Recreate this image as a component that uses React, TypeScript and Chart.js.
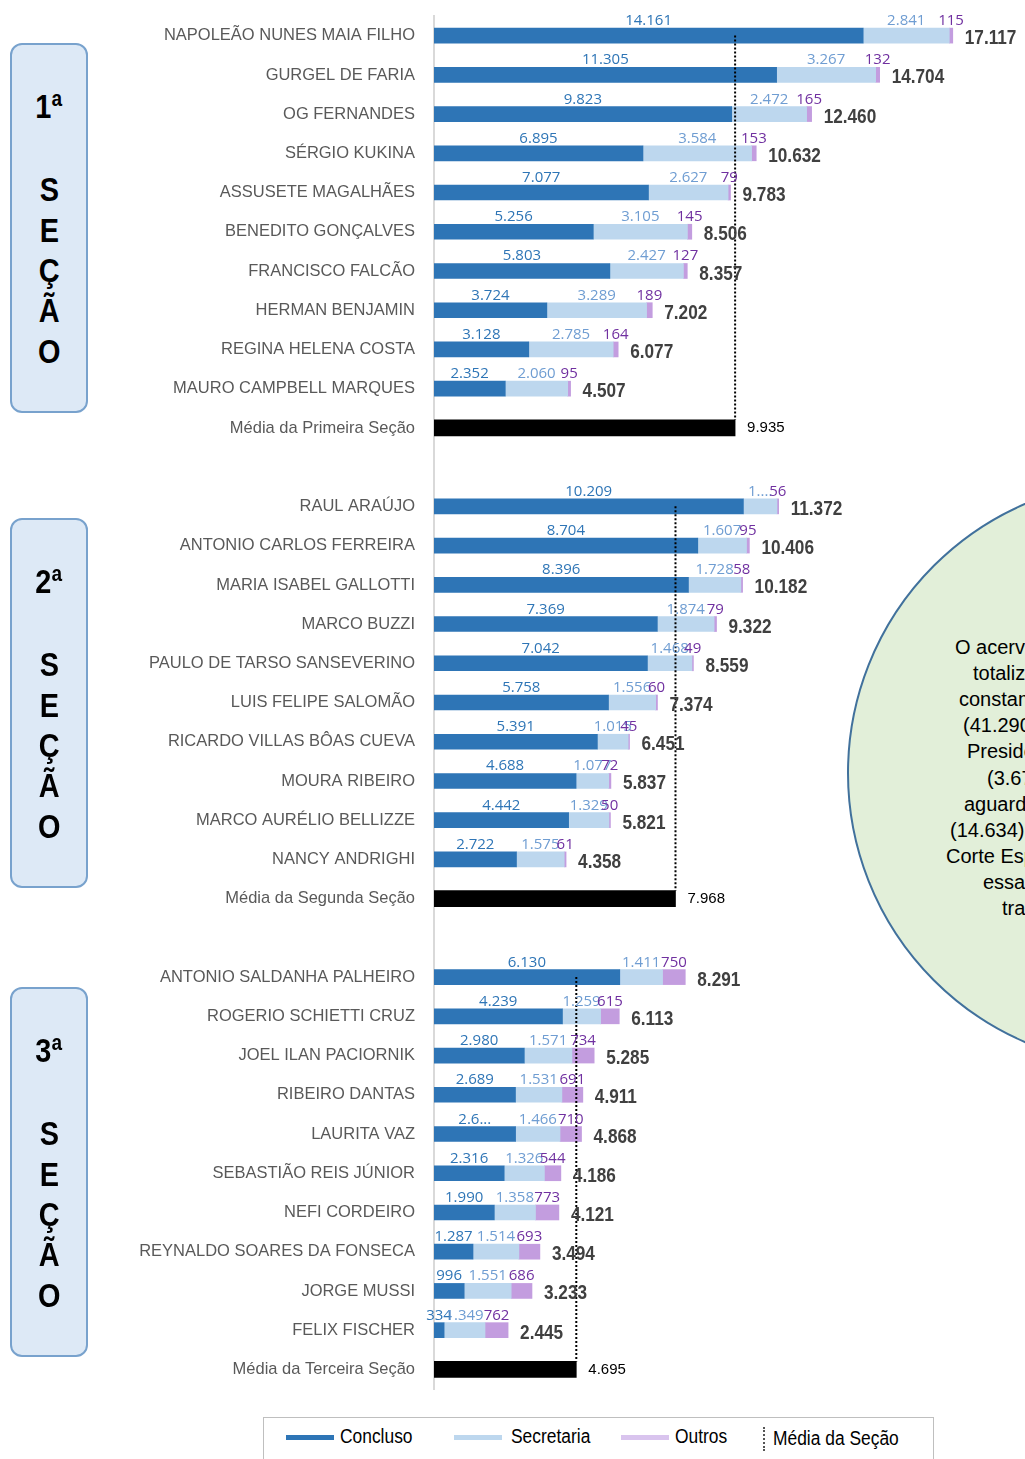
import React, { useEffect, useRef } from "react";
import { Chart, registerables } from "chart.js";

Chart.register(...registerables);

// ---------- DATA ----------
const section1Names = [
  "NAPOLEÃO NUNES MAIA FILHO",
  "GURGEL DE FARIA",
  "OG FERNANDES",
  "SÉRGIO KUKINA",
  "ASSUSETE MAGALHÃES",
  "BENEDITO GONÇALVES",
  "FRANCISCO FALCÃO",
  "HERMAN BENJAMIN",
  "REGINA HELENA COSTA",
  "MAURO CAMPBELL MARQUES",
];
const section1Concluso = [14161, 11305, 9823, 6895, 7077, 5256, 5803, 3724, 3128, 2352];
const section1Secretaria = [2841, 3267, 2472, 3584, 2627, 3105, 2427, 3289, 2785, 2060];
const section1Outros = [115, 132, 165, 153, 79, 145, 127, 189, 164, 95];

const section2Names = [
  "RAUL ARAÚJO",
  "ANTONIO CARLOS FERREIRA",
  "MARIA ISABEL GALLOTTI",
  "MARCO BUZZI",
  "PAULO DE TARSO SANSEVERINO",
  "LUIS FELIPE SALOMÃO",
  "RICARDO VILLAS BÔAS CUEVA",
  "MOURA RIBEIRO",
  "MARCO AURÉLIO BELLIZZE",
  "NANCY ANDRIGHI",
];
const section2Concluso = [10209, 8704, 8396, 7369, 7042, 5758, 5391, 4688, 4442, 2722];
const section2Secretaria = [1107, 1607, 1728, 1874, 1468, 1556, 1015, 1077, 1329, 1575];
const section2Outros = [56, 95, 58, 79, 49, 60, 45, 72, 50, 61];

const section3Names = [
  "ANTONIO SALDANHA PALHEIRO",
  "ROGERIO SCHIETTI CRUZ",
  "JOEL ILAN PACIORNIK",
  "RIBEIRO DANTAS",
  "LAURITA VAZ",
  "SEBASTIÃO REIS JÚNIOR",
  "NEFI CORDEIRO",
  "REYNALDO SOARES DA FONSECA",
  "JORGE MUSSI",
  "FELIX FISCHER",
];
const section3Concluso = [6130, 4239, 2980, 2689, 2692, 2316, 1990, 1287, 996, 334];
const section3Secretaria = [1411, 1259, 1571, 1531, 1466, 1326, 1358, 1514, 1551, 1349];
const section3Outros = [750, 615, 734, 691, 710, 544, 773, 693, 686, 762];

const mediaLabels = ["Média da Primeira Seção", "Média da Segunda Seção", "Média da Terceira Seção"];
const mediaValues = [9935, 7968, 4695];

// labels shown truncated in the original (sectionNumber-series-index)
const truncatedLabels: Record<string, string> = { "2-sec-0": "1....", "3-con-4": "2.6..." };

const sectionTitles = ["1ª", "2ª", "3ª"];
const sectionWord = ["S", "E", "Ç", "Ã", "O"];

const legendItems = ["Concluso", "Secretaria", "Outros", "Média da Seção"];

const circleLines = [
  "O acervo",
  "totaliza",
  "constam",
  "(41.290",
  "Presidência",
  "(3.67",
  "aguardando",
  "(14.634)",
  "Corte Especial",
  "essas",
  "tramitam",
];

// ---------- derived ----------
const namesBySec = [section1Names, section2Names, section3Names];
const conBySec = [section1Concluso, section2Concluso, section3Concluso];
const secBySec = [section1Secretaria, section2Secretaria, section3Secretaria];
const outBySec = [section1Outros, section2Outros, section3Outros];

type Row = { label: string; kind: "m" | "avg" | "gap"; s: number; k: number };
const rows: Row[] = [];
for (let s = 0; s < 3; s++) {
  namesBySec[s].forEach((n, k) => rows.push({ label: n, kind: "m", s, k }));
  rows.push({ label: mediaLabels[s], kind: "avg", s, k: -1 });
  if (s < 2) rows.push({ label: "", kind: "gap", s, k: -1 });
}

const fmt = (n: number) => String(n).replace(/\B(?=(\d{3})+(?!\d))/g, ".");

const C_CON = "#2e75b6";
const C_SEC = "#bdd7ee";
const C_OUT = "#c39ddf";

const labelPlugin = {
  id: "customLabels",
  afterDraw(chart: any) {
    const ctx: any = chart.ctx;
    const xs = chart.scales.x;
    const ys = chart.scales.y;
    const mCon = chart.getDatasetMeta(0).data;
    const mSec = chart.getDatasetMeta(1).data;
    const mOut = chart.getDatasetMeta(2).data;
    const mMed = chart.getDatasetMeta(3).data;

    // dotted section average lines
    for (let s = 0; s < 3; s++) {
      const first = rows.findIndex((r) => r.s === s && r.kind === "m");
      const avg = rows.findIndex((r) => r.s === s && r.kind === "avg");
      const px = xs.getPixelForValue(mediaValues[s]);
      ctx.save();
      ctx.strokeStyle = "#000";
      ctx.lineWidth = 2;
      ctx.setLineDash([2, 2]);
      ctx.beginPath();
      ctx.moveTo(px, ys.getPixelForValue(first));
      ctx.lineTo(px, ys.getPixelForValue(avg) - 8);
      ctx.stroke();
      ctx.restore();
    }

    rows.forEach((r, i) => {
      const cy = ys.getPixelForValue(i);
      if (r.label) {
        ctx.save();
        ctx.font = '17px "Liberation Sans", Arial, sans-serif';
        ctx.fillStyle = "#595959";
        ctx.textAlign = "right";
        ctx.textBaseline = "middle";
        ctx.translate(415, cy);
        ctx.scale(0.97, 1);
        ctx.fillText(r.label, 0, 0);
        ctx.restore();
      }
      if (r.kind === "m") {
        const segs: [any, number, string, string][] = [
          [mCon[i], conBySec[r.s][r.k], "#2e75b6", "con"],
          [mSec[i], secBySec[r.s][r.k], "#6f9dd2", "sec"],
          [mOut[i], outBySec[r.s][r.k], "#7030a0", "out"],
        ];
        segs.forEach(([el, v, col, key]) => {
          if (!el) return;
          const top = el.y - el.height / 2;
          const cx = (el.x + el.base) / 2;
          const txt = truncatedLabels[`${r.s + 1}-${key}-${r.k}`] ?? fmt(v);
          ctx.save();
          ctx.font = '15px "Open Sans", "Noto Sans", sans-serif';
          ctx.fillStyle = col;
          ctx.textAlign = "center";
          ctx.textBaseline = "alphabetic";
          ctx.fillText(txt, cx, top - 3);
          ctx.restore();
        });
        const end = mOut[i];
        const total = conBySec[r.s][r.k] + secBySec[r.s][r.k] + outBySec[r.s][r.k];
        ctx.save();
        ctx.font = 'bold 20px "Liberation Sans", Arial, sans-serif';
        ctx.fillStyle = "#404040";
        ctx.textAlign = "left";
        ctx.textBaseline = "middle";
        ctx.translate(end.x + 12, end.y + 3);
        ctx.scale(0.86, 1);
        ctx.fillText(fmt(total), 0, 0);
        ctx.restore();
      } else if (r.kind === "avg") {
        const el = mMed[i];
        ctx.save();
        ctx.font = '15px "Liberation Sans", Arial, sans-serif';
        ctx.fillStyle = "#000";
        ctx.textAlign = "left";
        ctx.textBaseline = "middle";
        ctx.fillText(fmt(mediaValues[r.s]), el.x + 12, el.y);
        ctx.restore();
      }
    });
  },
};

function BarChart() {
  const ref = useRef<HTMLCanvasElement | null>(null);
  useEffect(() => {
    if (!ref.current) return;
    const val = (arr: number[][]) => rows.map((r) => (r.kind === "m" ? arr[r.s][r.k] : null));
    const chart = new Chart(ref.current, {
      type: "bar",
      data: {
        labels: rows.map((r) => r.label),
        datasets: [
          { label: "Concluso", data: val(conBySec), backgroundColor: C_CON, barThickness: 15 },
          { label: "Secretaria", data: val(secBySec), backgroundColor: C_SEC, barThickness: 15 },
          { label: "Outros", data: val(outBySec), backgroundColor: C_OUT, barThickness: 15 },
          {
            label: "Média",
            data: rows.map((r) => (r.kind === "avg" ? mediaValues[r.s] : null)),
            backgroundColor: "#000",
            barThickness: 16,
          },
        ] as any,
      },
      options: {
        indexAxis: "y",
        animation: false,
        responsive: false,
        devicePixelRatio: 1,
        layout: { padding: { top: 16, bottom: 11, left: 0, right: 0 } },
        plugins: { legend: { display: false }, tooltip: { enabled: false } },
        scales: {
          x: { stacked: true, display: false, min: 0, max: 19500 },
          y: {
            stacked: true,
            grid: { display: false, drawTicks: false },
            ticks: { display: false },
            border: { display: true, color: "#d9d9d9", width: 2 },
            afterFit: (s: any) => {
              s.width = 434;
            },
          },
        },
      } as any,
      plugins: [labelPlugin],
    });
    return () => chart.destroy();
  }, []);
  return <canvas ref={ref} width={1025} height={1400} style={{ position: "absolute", left: 0, top: 0 }} />;
}

const boxTops = [43, 518, 987];

export default function App() {
  const legendSwatch = [C_CON, C_SEC, "#d9c4ee"];
  const legendLineX = [286, 454, 621];
  const legendTextX = [340, 511, 675, 773];
  const circleStarts = [955, 973, 959, 963, 967, 987, 964, 950, 946, 983, 1002];
  const boxLetter = (t: string, top: number, key: string | number) => (
    <div
      key={key}
      style={{
        position: "absolute",
        left: 0,
        right: 0,
        top,
        textAlign: "center",
        fontWeight: "bold",
        fontSize: 34,
        lineHeight: "36px",
        color: "#000",
      }}
    >
      <span style={{ display: "inline-block", transform: "scaleX(0.85)", transformOrigin: "center" }}>{t}</span>
    </div>
  );
  return (
    <div
      style={{
        position: "absolute",
        left: 0,
        top: 0,
        width: 1025,
        height: 1459,
        overflow: "hidden",
        background: "#fff",
        fontFamily: '"Liberation Sans", Arial, sans-serif',
      }}
    >
      {/* circle annotation */}
      <div
        style={{
          position: "absolute",
          left: 847,
          top: 479,
          width: 588,
          height: 588,
          borderRadius: "50%",
          background: "#e2efd9",
          border: "2px solid #41719c",
          boxSizing: "border-box",
        }}
      />
      {circleLines.map((t, i) => (
        <div
          key={i}
          style={{
            position: "absolute",
            left: circleStarts[i],
            top: 647 + i * 26.1 - 13,
            height: 26,
            lineHeight: "26px",
            fontSize: 20,
            color: "#000",
            whiteSpace: "nowrap",
          }}
        >
          {t}
        </div>
      ))}

      <BarChart />

      {/* section boxes */}
      {boxTops.map((top, s) => (
        <div
          key={s}
          style={{
            position: "absolute",
            left: 10,
            top,
            width: 78,
            height: 370,
            borderRadius: 12,
            background: "#dde9f6",
            border: "2px solid #78a2cd",
            boxSizing: "border-box",
          }}
        >
          {boxLetter(sectionTitles[s], 63 - 17.6 - 2, "t")}
          {sectionWord.map((c, j) => boxLetter(c, 146 - 17.6 - 2 + j * 40.3, j))}
        </div>
      ))}

      {/* legend */}
      <div
        style={{
          position: "absolute",
          left: 263,
          top: 1417,
          width: 671,
          height: 80,
          border: "1px solid #bfbfbf",
          boxSizing: "border-box",
        }}
      />
      {legendSwatch.map((c, i) => (
        <div
          key={"sw" + i}
          style={{ position: "absolute", left: legendLineX[i], top: 1435, width: 48, height: 5, background: c }}
        />
      ))}
      <div
        style={{
          position: "absolute",
          left: 763,
          top: 1427,
          width: 0,
          height: 24,
          borderLeft: "2px dotted #555",
        }}
      />
      {legendItems.map((t, i) => (
        <div
          key={"lt" + i}
          style={{
            position: "absolute",
            left: legendTextX[i],
            top: 1424 + (i === 3 ? 2 : 0),
            fontSize: 20,
            lineHeight: "24px",
            color: "#000",
            whiteSpace: "nowrap",
          }}
        >
          <span style={{ display: "inline-block", transform: "scaleX(0.87)", transformOrigin: "left center" }}>{t}</span>
        </div>
      ))}
    </div>
  );
}
